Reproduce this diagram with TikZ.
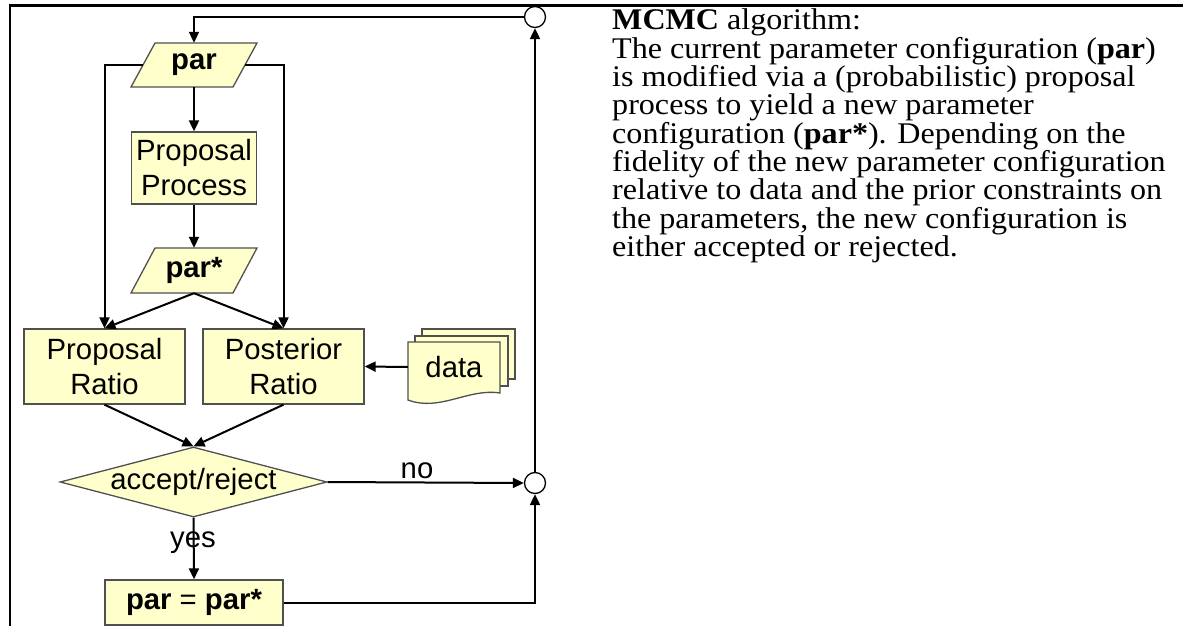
\documentclass[tikz,border=0pt]{standalone}
\usepackage{fontspec}
\setmainfont{Liberation Serif}[FakeStretch=1.07]
\newfontfamily\arialf{Liberation Sans}
\usetikzlibrary{arrows.meta,shapes.geometric}
\definecolor{boxfill}{RGB}{255,255,204}
\definecolor{boxline}{RGB}{80,80,80}
\newcommand\mynodefont{\arialf\fontsize{29.3}{35}\selectfont}
\newcommand\mytextfont{\fontsize{30}{28.3}\selectfont}
\tikzset{
  conn/.style={line width=2pt, black},
  arr/.style={conn, -{Triangle[length=11pt,width=10pt]}},
  shapeline/.style={draw=boxline, line width=1.3pt, fill=boxfill},
  boxnode/.style={shapeline, inner sep=0pt, align=center, font=\mynodefont},
  txtnode/.style={inner sep=0pt, font=\mynodefont},
  junction/.style={circle, draw=black, line width=1.3pt, fill=white, minimum size=21pt, inner sep=0pt},
  bodyline/.style={anchor=base west, inner sep=0pt, font=\mytextfont},
}
\begin{document}
\begin{tikzpicture}[x=1pt,y=-1pt]
\useasboundingbox (0,0) rectangle (1183,626);
% frame
\draw[line width=2.5pt] (10,626) -- (10,5.5) -- (1183,5.5);

% par
\draw[shapeline] (131,87) -- (233,87) -- (257,43) -- (155,43) -- cycle;
\node[txtnode, minimum width=102pt, minimum height=44pt] (par) at (194,65) {\textbf{par}};
% proposal process
\node[boxnode, minimum width=125pt, minimum height=72pt] (pp) at (194,168) {Proposal\\Process};
% par*
\draw[shapeline] (131,293) -- (233,293) -- (257,248) -- (155,248) -- cycle;
\node[txtnode, minimum width=102pt, minimum height=45pt] (ps) at (194,270.5) {\textbf{par*}};
% ratios
\node[boxnode, minimum width=161pt, minimum height=75pt] (pr) at (104.5,366.5) {Proposal\\Ratio};
\node[boxnode, minimum width=161pt, minimum height=75pt] (po) at (283.5,366.5) {Posterior\\Ratio};
% data (multiple documents)
\draw[shapeline] (422,329) rectangle (515,379);
\draw[shapeline] (415,336) rectangle (508,386);
\draw[shapeline] (408,342) -- (500,342) -- (500,393) .. controls (468,388) and (440,412) .. (408,400) -- cycle;
\node[txtnode, minimum width=92pt, minimum height=50pt] (data) at (454,367) {data};
% decision
\node[diamond, shapeline, minimum width=267pt, minimum height=70pt, inner sep=0pt, aspect=3.8, font=\mynodefont] (dia) at (193.5,482) {\makebox[0pt]{accept/reject}};
% par = par*
\node[boxnode, minimum width=178pt, minimum height=45pt] (pe) at (194,602.5) {\textbf{par} = \textbf{par*}};
% junctions
\node[junction] (c1) at (535,17) {};
\node[junction] (c2) at (535,483) {};

% connectors
\draw[arr] (c1.west) -| (par.north);
\draw[arr] (par.south) -- (pp.north);
\draw[arr] (pp.south) -- (ps.north);
\draw[arr] (par.west) -| (pr.north);
\draw[arr] (par.east) -| (po.north);
\draw[arr] (ps.south) -- (pr.north);
\draw[arr] (ps.south) -- (po.north);
\draw[arr] (data.west) -- (po.east);
\draw[arr] (pr.south) -- (dia.north);
\draw[arr] (po.south) -- (dia.north);
\draw[arr] (dia.east) -- (c2.west);
\node[txtnode] (no) at (417,471) {no};
\node[txtnode] (yes) at (193,543) {yes};
\draw[arr] (dia.south) -- (pe.north);
\draw[arr] (pe.east) -| (c2.south);
\draw[arr] (c2.north) -- (c1.south);

% description
\node[bodyline] (t1) at (612,30) {\textbf{MCMC} algorithm:};
\node[bodyline] (t2) at (612,58.3) {The current parameter configuration (\textbf{par})};
\node[bodyline] (t3) at (612,86.6) {is modified via a (probabilistic) proposal};
\node[bodyline] (t4) at (612,114.9) {process to yield a new parameter};
\node[bodyline] (t5) at (612,143.2) {configuration (\textbf{par*}). Depending on the};
\node[bodyline] (t6) at (612,171.5) {fidelity of the new parameter configuration};
\node[bodyline] (t7) at (612,199.8) {relative to data and the prior constraints on};
\node[bodyline] (t8) at (612,228.1) {the parameters, the new configuration is};
\node[bodyline] (t9) at (612,256.4) {either accepted or rejected.};
\end{tikzpicture}
\end{document}
